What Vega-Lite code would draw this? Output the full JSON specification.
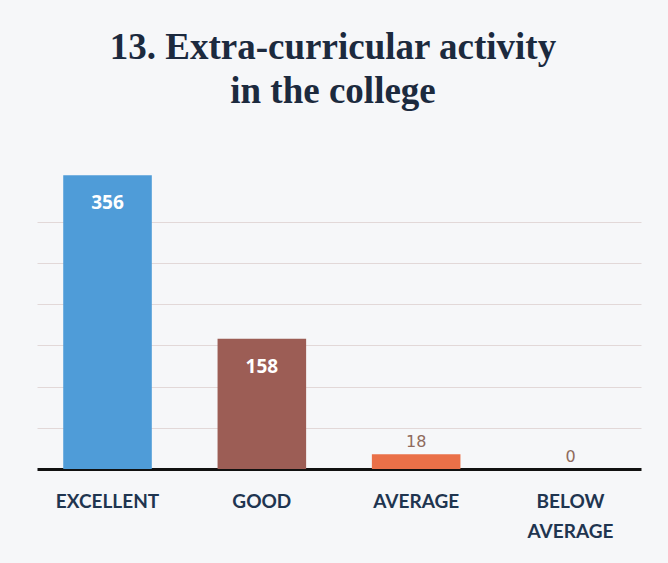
{
  "$schema": "https://vega.github.io/schema/vega-lite/v6.json",
  "width": 604,
  "height": 330,
  "autosize": {"type": "none"},
  "padding": {"left": 37, "top": 139, "right": 27, "bottom": 94},
  "background": "#f6f7f9",
  "view": {"stroke": null},
  "title": {
    "text": ["13. Extra-curricular activity", "in the college"],
    "font": "Liberation Serif",
    "fontSize": 37,
    "fontWeight": "bold",
    "color": "#1c2a3e",
    "lineHeight": 44,
    "anchor": "middle",
    "offset": 28,
    "dx": -6
  },
  "data": {
    "values": [
      {"rating": "EXCELLENT", "count": 356},
      {"rating": "GOOD", "count": 158},
      {"rating": "AVERAGE", "count": 18},
      {"rating": "BELOW AVERAGE", "count": 0}
    ]
  },
  "encoding": {
    "x": {
      "field": "rating",
      "type": "nominal",
      "sort": null,
      "scale": {"paddingInner": 0.426, "paddingOuter": 0.17},
      "axis": {
        "title": null,
        "labelAngle": 0,
        "labelExpr": "split(datum.label, ' ')",
        "labelFont": "Lato",
        "labelFontSize": 19,
        "labelFontWeight": "bold",
        "labelColor": "#1f3550",
        "labelPadding": 23,
        "labelLineHeight": 30,
        "ticks": false,
        "domain": true,
        "domainColor": "#111111",
        "domainWidth": 3,
        "grid": false
      }
    },
    "y": {
      "field": "count",
      "type": "quantitative",
      "scale": {"domain": [0, 400], "nice": false},
      "axis": {
        "title": null,
        "labels": false,
        "ticks": false,
        "domain": false,
        "grid": true,
        "gridColor": "#e2d8d8",
        "gridWidth": 1,
        "values": [50, 100, 150, 200, 250, 300]
      }
    }
  },
  "layer": [
    {
      "mark": {"type": "bar"},
      "encoding": {
        "color": {
          "field": "rating",
          "type": "nominal",
          "legend": null,
          "scale": {
            "domain": ["EXCELLENT", "GOOD", "AVERAGE", "BELOW AVERAGE"],
            "range": ["#4f9cd8", "#9c5d55", "#ea7048", "#999999"]
          }
        }
      }
    },
    {
      "transform": [{"filter": "datum.count > 100"}],
      "mark": {
        "type": "text",
        "baseline": "top",
        "dy": 19,
        "color": "#ffffff",
        "font": "Open Sans",
        "fontSize": 19,
        "fontWeight": "bold"
      },
      "encoding": {"text": {"field": "count", "type": "quantitative"}}
    },
    {
      "transform": [{"filter": "datum.count <= 100"}],
      "mark": {
        "type": "text",
        "baseline": "bottom",
        "dy": -4,
        "color": "#8f6a5c",
        "font": "DejaVu Sans",
        "fontSize": 16
      },
      "encoding": {"text": {"field": "count", "type": "quantitative"}}
    }
  ]
}
